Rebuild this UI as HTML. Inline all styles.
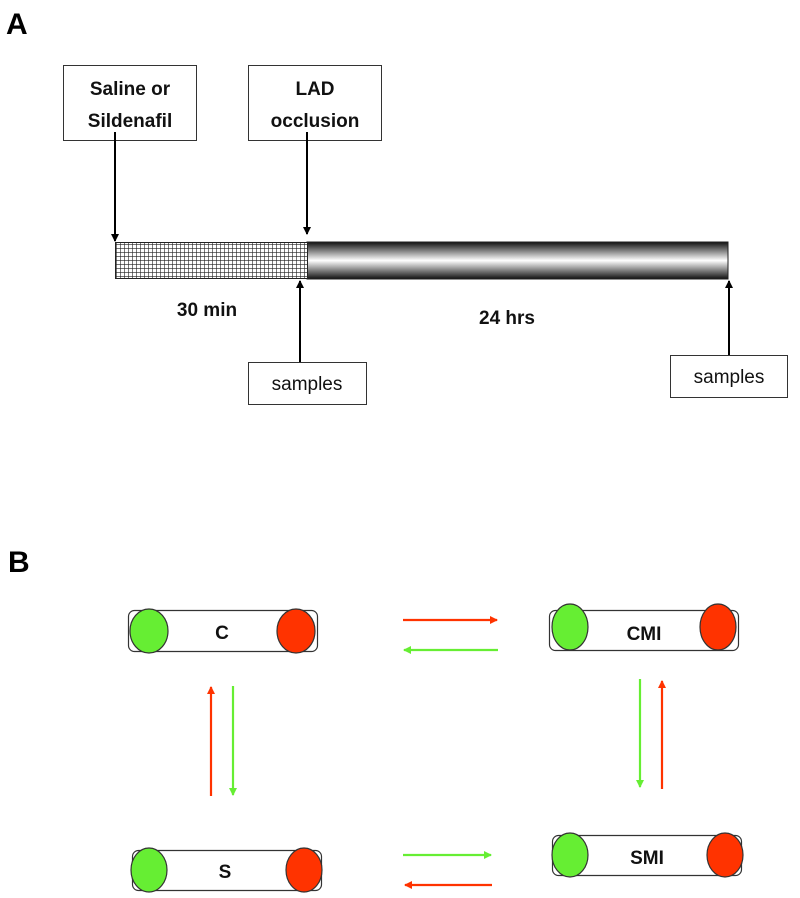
<!DOCTYPE html>
<html><head><style>
html,body{margin:0;padding:0;background:#fff;}
svg{display:block;font-family:"Liberation Sans",sans-serif;}
</style></head><body>
<svg width="800" height="898" viewBox="0 0 800 898">
<defs>
<pattern id="grid" width="4" height="4" patternUnits="userSpaceOnUse">
<rect width="4" height="4" fill="#fff"/>
<path d="M0 0H4M0 0V4" stroke="#222" stroke-width="1.2"/>
</pattern>
<linearGradient id="cyl" x1="0" y1="0" x2="0" y2="1">
<stop offset="0" stop-color="#111"/><stop offset="0.5" stop-color="#fff"/><stop offset="1" stop-color="#111"/>
</linearGradient>
<marker id="ak" markerWidth="8" markerHeight="8" refX="7" refY="4" orient="auto" markerUnits="userSpaceOnUse"><path d="M0 0L8 4L0 8Z" fill="#000"/></marker>
<marker id="ag" markerWidth="8" markerHeight="8" refX="7" refY="4" orient="auto" markerUnits="userSpaceOnUse"><path d="M0 0L8 4L0 8Z" fill="#66ee33"/></marker>
<marker id="ar" markerWidth="8" markerHeight="8" refX="7" refY="4" orient="auto" markerUnits="userSpaceOnUse"><path d="M0 0L8 4L0 8Z" fill="#ff3300"/></marker>
</defs>
<text x="6" y="34" font-size="30" font-weight="bold">A</text>
<text x="8" y="572" font-size="30" font-weight="bold">B</text>

<rect x="63.5" y="65.5" width="133" height="75" fill="#fff" stroke="#333"/>
<text x="130" y="95" font-size="19" font-weight="bold" text-anchor="middle" fill="#111">Saline or</text>
<text x="130" y="127" font-size="19" font-weight="bold" text-anchor="middle" fill="#111">Sildenafil</text>
<rect x="248.5" y="65.5" width="133" height="75" fill="#fff" stroke="#333"/>
<text x="315" y="95" font-size="19" font-weight="bold" text-anchor="middle" fill="#111">LAD</text>
<text x="315" y="127" font-size="19" font-weight="bold" text-anchor="middle" fill="#111">occlusion</text>

<line x1="115" y1="132" x2="115" y2="241" stroke="#000" stroke-width="2" marker-end="url(#ak)"/>
<line x1="307" y1="132" x2="307" y2="234" stroke="#000" stroke-width="2" marker-end="url(#ak)"/>

<rect x="307" y="242" width="421" height="37" fill="url(#cyl)" stroke="#222"/>
<rect x="115.5" y="242.5" width="192" height="36" fill="url(#grid)" stroke="#222"/>

<line x1="300" y1="376" x2="300" y2="281" stroke="#000" stroke-width="2" marker-end="url(#ak)"/>
<line x1="729" y1="381" x2="729" y2="281" stroke="#000" stroke-width="2" marker-end="url(#ak)"/>

<text x="207" y="316" font-size="19" font-weight="bold" text-anchor="middle" fill="#111">30 min</text>
<text x="507" y="324" font-size="19" font-weight="bold" text-anchor="middle" fill="#111">24 hrs</text>

<rect x="248.5" y="362.5" width="118" height="42" fill="#fff" stroke="#333"/>
<text x="307" y="390" font-size="19" text-anchor="middle" fill="#111">samples</text>
<rect x="670.5" y="355.5" width="117" height="42" fill="#fff" stroke="#333"/>
<text x="729" y="383" font-size="19" text-anchor="middle" fill="#111">samples</text>

<!-- B -->
<g stroke="#333" stroke-width="1.2">
<rect x="128.5" y="610.5" width="189" height="41" rx="6" fill="#fff"/>
<ellipse cx="149" cy="631" rx="19" ry="22" fill="#66ee33"/>
<ellipse cx="296" cy="631" rx="19" ry="22" fill="#ff3300"/>
<rect x="549.5" y="610.5" width="189" height="40" rx="6" fill="#fff"/>
<ellipse cx="570" cy="627" rx="18" ry="23" fill="#66ee33"/>
<ellipse cx="718" cy="627" rx="18" ry="23" fill="#ff3300"/>
<rect x="132.5" y="850.5" width="189" height="40" rx="6" fill="#fff"/>
<ellipse cx="149" cy="870" rx="18" ry="22" fill="#66ee33"/>
<ellipse cx="304" cy="870" rx="18" ry="22" fill="#ff3300"/>
<rect x="552.5" y="835.5" width="189" height="40" rx="6" fill="#fff"/>
<ellipse cx="570" cy="855" rx="18" ry="22" fill="#66ee33"/>
<ellipse cx="725" cy="855" rx="18" ry="22" fill="#ff3300"/>
</g>
<text x="222" y="639" font-size="19" font-weight="bold" text-anchor="middle" fill="#111">C</text>
<text x="644" y="640" font-size="19" font-weight="bold" text-anchor="middle" fill="#111">CMI</text>
<text x="225" y="878" font-size="19" font-weight="bold" text-anchor="middle" fill="#111">S</text>
<text x="647" y="864" font-size="19" font-weight="bold" text-anchor="middle" fill="#111">SMI</text>

<g stroke-width="2.2">
<line x1="403" y1="620" x2="497" y2="620" stroke="#ff3300" marker-end="url(#ar)"/>
<line x1="498" y1="650" x2="404" y2="650" stroke="#66ee33" marker-end="url(#ag)"/>
<line x1="211" y1="796" x2="211" y2="687" stroke="#ff3300" marker-end="url(#ar)"/>
<line x1="233" y1="686" x2="233" y2="795" stroke="#66ee33" marker-end="url(#ag)"/>
<line x1="640" y1="679" x2="640" y2="787" stroke="#66ee33" marker-end="url(#ag)"/>
<line x1="662" y1="789" x2="662" y2="681" stroke="#ff3300" marker-end="url(#ar)"/>
<line x1="403" y1="855" x2="491" y2="855" stroke="#66ee33" marker-end="url(#ag)"/>
<line x1="492" y1="885" x2="405" y2="885" stroke="#ff3300" marker-end="url(#ar)"/>
</g>
</svg>
</body></html>
